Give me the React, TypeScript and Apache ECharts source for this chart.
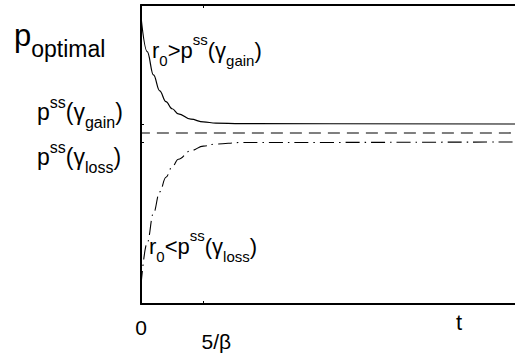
import React, { useEffect, useRef } from "react";
import * as echarts from "echarts";

// time axis values (units of 1/β)
const tValues = [0, 0.5, 1, 1.5, 2, 2.5, 3, 4, 5, 6, 8, 30];
// r0 > pss(γgain): decaying curve
const gainCurve = [0.96, 0.844, 0.766, 0.713, 0.677, 0.653, 0.636, 0.618, 0.609, 0.605, 0.603, 0.602];
// r0 < pss(γloss): rising curve
const lossCurve = [0.064, 0.205, 0.304, 0.375, 0.424, 0.459, 0.484, 0.513, 0.528, 0.535, 0.54, 0.542];
// steady level between the two (dashed)
const midLevel = 0.572;
const midRange = [-0.25, 30];
// axis ticks
const xTickValues = [0, 5];
const xTickLabels = ["0", "5/β"];
const yTickValues = [0.542, 0.602];

const FONT = "'Liberation Sans', Arial, Helvetica, sans-serif";

export default function App() {
  const ref = useRef<HTMLDivElement>(null);
  useEffect(() => {
    if (!ref.current) return;
    const chart = echarts.init(ref.current, undefined, { renderer: "svg" });
    const mkRich = (big: number, small: number) => ({
      m: { fontSize: big, fontFamily: FONT, color: "#000", lineHeight: 36, verticalAlign: "middle" },
      sup: { fontSize: small, fontFamily: FONT, color: "#000", lineHeight: small, verticalAlign: "top" },
      sub: { fontSize: small, fontFamily: FONT, color: "#000", lineHeight: small, verticalAlign: "bottom" },
    });
    const mkText = (x: number, y: number, text: string, big: number, small: number) => ({
      type: "text",
      x,
      y,
      silent: true,
      style: { text, rich: mkRich(big, small), fontFamily: FONT, verticalAlign: "top", align: "left" },
    });
    chart.setOption({
      animation: false,
      backgroundColor: "#fff",
      grid: { left: 141, top: 5, right: -4, bottom: 52, containLabel: false },
      xAxis: [
        {
          type: "value",
          min: 0,
          max: 30,
          position: "bottom",
          axisLine: { show: true, lineStyle: { color: "#000", width: 2 } },
          splitLine: { show: false },
          axisTick: { show: true, inside: true, length: 3, customValues: xTickValues, lineStyle: { color: "#000", width: 1 } },
          axisLabel: {
            show: true,
            customValues: xTickValues,
            margin: 13,
            formatter: (v: number) => (v === 0 ? "{a|" + xTickLabels[0] + "}" : "{b|" + xTickLabels[1] + "}"),
            rich: {
              a: { fontSize: 21, fontFamily: FONT, color: "#000" },
              b: { fontSize: 21, fontFamily: FONT, color: "#000", padding: [14, 0, 0, 26] },
            },
          },
        },
        {
          type: "value",
          min: 0,
          max: 30,
          position: "top",
          axisLine: { show: true, lineStyle: { color: "#000", width: 2 } },
          splitLine: { show: false },
          axisTick: { show: true, inside: true, length: 3, customValues: [5], lineStyle: { color: "#000", width: 1 } },
          axisLabel: { show: false },
        },
      ],
      yAxis: {
        type: "value",
        min: 0,
        max: 1,
        axisLine: { show: true, lineStyle: { color: "#000", width: 2 } },
        splitLine: { show: false },
        axisTick: { show: true, inside: true, length: 3, customValues: yTickValues, lineStyle: { color: "#000", width: 1 } },
        axisLabel: { show: false },
      },
      series: [
        {
          type: "line",
          data: tValues.map((t, i) => [t, gainCurve[i]]),
          smooth: 0.4,
          smoothMonotone: "x",
          showSymbol: false,
          lineStyle: { color: "#000", width: 1.2 },
        },
        {
          type: "line",
          data: tValues.map((t, i) => [t, lossCurve[i]]),
          smooth: 0.4,
          smoothMonotone: "x",
          showSymbol: false,
          lineStyle: { color: "#000", width: 1.1, type: [14, 5, 1.5, 5] },
        },
        {
          type: "line",
          data: midRange.map((t) => [t, midLevel]),
          clip: false,
          showSymbol: false,
          lineStyle: { color: "#000", width: 1.1, type: [12, 7] },
        },
      ],
      graphic: [
        {
          type: "text",
          x: 14,
          y: 20,
          silent: true,
          style: {
            text: "{p|p}{s|optimal}",
            rich: {
              p: { fontSize: 31, fontFamily: FONT, color: "#000", lineHeight: 40, verticalAlign: "top" },
              s: { fontSize: 23, fontFamily: FONT, color: "#000", lineHeight: 23, verticalAlign: "bottom" },
            },
            verticalAlign: "top",
          },
        },
        mkText(37, 94, "{m|p}{sup|ss}{m|(γ}{sub|gain}{m|)}", 23, 16),
        mkText(37, 139, "{m|p}{sup|ss}{m|(γ}{sub|loss}{m|)}", 23, 16),
        mkText(152, 32, "{m|r}{sub|0}{m|>p}{sup|ss}{m|(γ}{sub|gain}{m|)}", 22, 15),
        mkText(149, 228, "{m|r}{sub|0}{m|<p}{sup|ss}{m|(γ}{sub|loss}{m|)}", 22, 15),
        {
          type: "text",
          x: 456,
          y: 311,
          silent: true,
          style: { text: "t", fontSize: 22, fontFamily: FONT, fill: "#000", verticalAlign: "top" },
        },
      ],
    });
    return () => chart.dispose();
  }, []);
  return (
    <div
      ref={ref}
      style={{ position: "fixed", left: 0, top: 0, width: 515, height: 356, background: "#fff" }}
    />
  );
}
